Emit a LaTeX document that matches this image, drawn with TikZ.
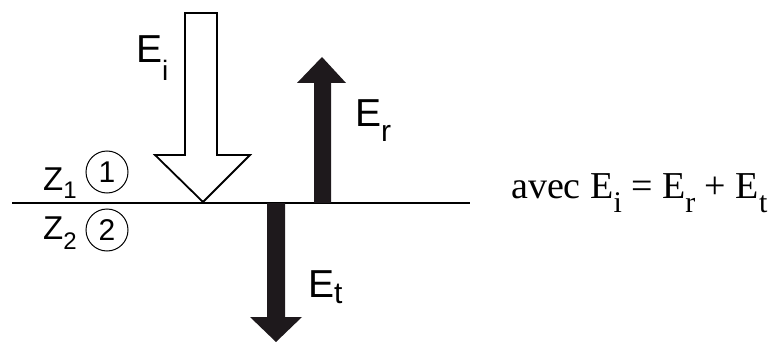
\documentclass[tikz,border=0pt]{standalone}
\usepackage{fontspec}
\setmainfont{Liberation Serif}
\newfontfamily\arialfont{Liberation Sans}
\newcommand\mysub[3]{\raisebox{-#1pt}{\fontsize{#2}{#2}\selectfont #3}}
\definecolor{arrowdark}{HTML}{1E191C}
\begin{document}
\begin{tikzpicture}[x=1pt,y=-1pt,
  lab/.style={anchor=base west, inner sep=0pt, font=\arialfont\fontsize{39}{39}\selectfont},
  zlab/.style={anchor=base west, inner sep=0pt, font=\arialfont\fontsize{33}{33}\selectfont},
  medium/.style={circle, draw, line width=1pt, minimum size=42pt, inner sep=0pt, font=\arialfont\fontsize{30}{30}\selectfont},
  outline/.style={draw=black, line width=1.8pt, fill=white, line join=miter},
  solidarrow/.style={fill=arrowdark}]
\useasboundingbox (0,0) rectangle (781,342);
% interface
\coordinate (ifl) at (12,203);
\coordinate (ifr) at (470,203);
\draw[line width=2pt] (ifl) -- (ifr);
% incident arrow (outline)
\draw[outline] (185,13) -- (217,13) -- (217,155) -- (250,155) -- (203,202) -- (155,155) -- (185,155) -- cycle;
% reflected arrow
\fill[solidarrow] (314,203) -- (314,83) -- (297,83) -- (322,57) -- (346,83) -- (331,83) -- (331,203) -- cycle;
% transmitted arrow
\fill[solidarrow] (267,203) -- (267,317) -- (250,317) -- (276,342) -- (302,317) -- (285,317) -- (285,203) -- cycle;
% labels
\node[lab] (ei) at (136,63) {E\mysub{18}{28}{i}};
\node[lab] (er) at (355,127) {E\mysub{14}{30}{r}};
\node[lab] (et) at (308,297) {E\mysub{6}{30}{t}};
\node[zlab] (z1) at (43,190) {Z\mysub{8}{24}{1}};
\node[zlab] (z2) at (43,239) {Z\mysub{10}{24}{2}};
\node[medium] (m1) at (107,172) {1};
\node[medium] (m2) at (107,230) {2};
\node[anchor=base west, inner sep=0pt, font=\fontsize{38}{38}\selectfont] (eq) at (511,198)
  {avec E\mysub{14}{30}{i} = E\mysub{14}{30}{r} + E\mysub{14}{30}{t}};
\end{tikzpicture}
\end{document}
